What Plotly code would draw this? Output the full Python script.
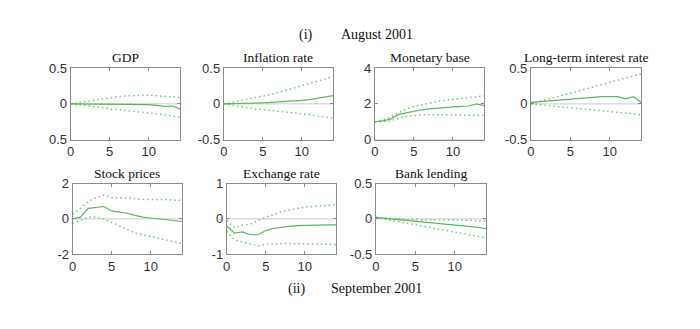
import plotly.graph_objects as go

horizon = list(range(15))

titles = ["GDP", "Inflation rate", "Monetary base", "Long-term interest rate",
          "Stock prices", "Exchange rate", "Bank lending"]

gdp_mid = [0, 0, 0, 0, 0, 0, 0, 0, 0, -0.005, -0.01, -0.02, -0.035, -0.03, -0.07]
gdp_up = [0, 0.01, 0.03, 0.05, 0.07, 0.09, 0.10, 0.11, 0.12, 0.12, 0.12, 0.115, 0.11, 0.10, 0.09]
gdp_lo = [0, -0.01, -0.02, -0.04, -0.05, -0.07, -0.08, -0.09, -0.10, -0.11, -0.12, -0.14, -0.15, -0.17, -0.19]

inf_mid = [0, 0, 0, 0.005, 0.01, 0.015, 0.02, 0.025, 0.03, 0.04, 0.05, 0.06, 0.075, 0.09, 0.115]
inf_up = [0, 0.02, 0.04, 0.06, 0.08, 0.10, 0.13, 0.16, 0.19, 0.22, 0.25, 0.28, 0.31, 0.34, 0.38]
inf_lo = [0, -0.02, -0.04, -0.05, -0.07, -0.08, -0.09, -0.10, -0.11, -0.12, -0.14, -0.15, -0.17, -0.18, -0.20]

mb_mid = [1.0, 1.05, 1.15, 1.4, 1.5, 1.6, 1.67, 1.72, 1.77, 1.8, 1.83, 1.86, 1.88, 2.0, 1.9]
mb_up = [1.0, 1.1, 1.25, 1.5, 1.7, 1.85, 1.95, 2.05, 2.13, 2.2, 2.25, 2.3, 2.35, 2.4, 2.45]
mb_lo = [1.0, 1.0, 1.05, 1.2, 1.3, 1.35, 1.38, 1.4, 1.4, 1.4, 1.4, 1.4, 1.38, 1.36, 1.35]

lt_mid = [0.02, 0.03, 0.04, 0.05, 0.06, 0.07, 0.08, 0.09, 0.095, 0.1, 0.1, 0.1, 0.07, 0.1, 0.02]
lt_up = [0.0, 0.03, 0.06, 0.09, 0.12, 0.15, 0.18, 0.21, 0.24, 0.27, 0.30, 0.33, 0.36, 0.39, 0.42]
lt_lo = [0.0, -0.01, -0.02, -0.03, -0.04, -0.05, -0.06, -0.07, -0.08, -0.09, -0.10, -0.11, -0.12, -0.14, -0.16]

sp_mid = [0, 0.1, 0.6, 0.65, 0.7, 0.45, 0.4, 0.32, 0.2, 0.1, 0.05, 0.0, -0.05, -0.1, -0.15]
sp_up = [0.27, 0.6, 1.0, 1.2, 1.35, 1.2, 1.2, 1.2, 1.15, 1.1, 1.1, 1.1, 1.1, 1.05, 1.05]
sp_lo = [-0.27, -0.1, 0.1, 0.1, 0.0, -0.2, -0.4, -0.6, -0.8, -0.9, -1.0, -1.1, -1.2, -1.3, -1.4]

ex_mid = [-0.2, -0.4, -0.37, -0.45, -0.45, -0.33, -0.27, -0.23, -0.21, -0.19, -0.18, -0.18, -0.17, -0.17, -0.17]
ex_up = [-0.05, -0.25, -0.18, -0.15, -0.05, 0.05, 0.12, 0.2, 0.25, 0.3, 0.33, 0.35, 0.37, 0.38, 0.4]
ex_lo = [-0.35, -0.6, -0.65, -0.7, -0.77, -0.72, -0.7, -0.7, -0.7, -0.7, -0.7, -0.7, -0.72, -0.72, -0.73]

bl_mid = [0.02, 0.01, -0.01, -0.02, -0.03, -0.04, -0.05, -0.06, -0.07, -0.08, -0.09, -0.10, -0.11, -0.12, -0.14]
bl_up = [0.02, 0.01, 0.0, 0.0, -0.01, -0.01, -0.01, -0.02, -0.02, -0.02, -0.02, -0.02, -0.02, -0.03, -0.03]
bl_lo = [0.02, 0.0, -0.03, -0.05, -0.07, -0.09, -0.11, -0.13, -0.15, -0.17, -0.19, -0.21, -0.23, -0.25, -0.27]

series = [(gdp_mid, gdp_up, gdp_lo), (inf_mid, inf_up, inf_lo), (mb_mid, mb_up, mb_lo),
          (lt_mid, lt_up, lt_lo), (sp_mid, sp_up, sp_lo), (ex_mid, ex_up, ex_lo),
          (bl_mid, bl_up, bl_lo)]

y_ranges = [(-0.5, 0.5), (-0.5, 0.5), (0, 4), (-0.5, 0.5), (-2, 2), (-1, 1), (-0.5, 0.5)]
y_tickvals = [[-0.5, 0, 0.5], [-0.5, 0, 0.5], [0, 2, 4], [-0.5, 0, 0.5],
              [-2, 0, 2], [-1, 0, 1], [-0.5, 0, 0.5]]
y_ticktext = [["0.5", "0", "0.5"], ["-0.5", "0", "0.5"], ["0", "2", "4"], ["-0.5", "0", "0.5"],
              ["-2", "0", "2"], ["-1", "0", "1"], ["-0.5", "0", "0.5"]]
x_ticks = [0, 5, 10]

W, H = 700, 329
# pixel boxes (left, right, top, bottom)
boxes = [(67, 177, 64, 139), (221, 331, 64, 139), (373, 483, 64, 139), (530, 641, 64, 139),
         (69, 179, 185, 259), (224, 334, 185, 259), (374, 485, 185, 259)]

fig = go.Figure()
mid_color = "#5cb85c"
band_color = "#79c879"
frame = "#8c8c8c"
sans = "Liberation Sans"
serif = "Liberation Serif"

layout = dict(width=W, height=H, margin=dict(l=0, r=0, t=0, b=0),
              paper_bgcolor="white", plot_bgcolor="white", showlegend=False)
annotations = []
for i, (b, s) in enumerate(zip(boxes, series)):
    k = "" if i == 0 else str(i + 1)
    xa, ya = "x" + k, "y" + k
    mid, up, lo = s
    fig.add_trace(go.Scatter(x=horizon, y=[0] * len(horizon), xaxis=xa, yaxis=ya, mode="lines",
                             line=dict(color="#cccccc", width=1), hoverinfo="skip"))
    fig.add_trace(go.Scatter(x=horizon, y=up, xaxis=xa, yaxis=ya, mode="lines",
                             line=dict(color=band_color, width=1.5, dash="1.5px,3px")))
    fig.add_trace(go.Scatter(x=horizon, y=lo, xaxis=xa, yaxis=ya, mode="lines",
                             line=dict(color=band_color, width=1.5, dash="1.5px,3px")))
    fig.add_trace(go.Scatter(x=horizon, y=mid, xaxis=xa, yaxis=ya, mode="lines",
                             line=dict(color=mid_color, width=1.2)))
    l, r, t, bt = b
    layout["xaxis" + k] = dict(domain=[l / W, r / W], anchor=ya, range=[0, 14],
                               tickvals=x_ticks, ticks="inside", ticklen=3, tickcolor=frame,
                               showline=True, linecolor=frame, linewidth=1, mirror="ticks",
                               showgrid=False, zeroline=False,
                               tickfont=dict(family=sans, size=13, color="#333"))
    layout["yaxis" + k] = dict(domain=[1 - bt / H, 1 - t / H], anchor=xa, range=list(y_ranges[i]),
                               tickvals=y_tickvals[i], ticktext=y_ticktext[i],
                               ticks="inside", ticklen=3, tickcolor=frame,
                               showline=True, linecolor=frame, linewidth=1, mirror="ticks",
                               showgrid=False, zeroline=False,
                               tickfont=dict(family=sans, size=13, color="#333"))
    annotations.append(dict(text=titles[i], x=(l + r) / 2 / W, y=1 - (t - 1) / H,
                            xref="paper", yref="paper", xanchor="center", yanchor="bottom",
                            showarrow=False, font=dict(family=serif, size=13.5, color="#111")))

head_font = dict(family=serif, size=14, color="#111")
annotations += [
    dict(text="(i)", x=304 / W, y=1 - 29 / H, xref="paper", yref="paper", showarrow=False,
         xanchor="center", yanchor="middle", font=head_font),
    dict(text="August 2001", x=375 / W, y=1 - 29 / H, xref="paper", yref="paper", showarrow=False,
         xanchor="center", yanchor="middle", font=head_font),
    dict(text="(ii)", x=294 / W, y=1 - 295 / H, xref="paper", yref="paper", showarrow=False,
         xanchor="center", yanchor="middle", font=head_font),
    dict(text="September 2001", x=375 / W, y=1 - 295 / H, xref="paper", yref="paper", showarrow=False,
         xanchor="center", yanchor="middle", font=head_font),
]
layout["annotations"] = annotations
fig.update_layout(**layout)
fig.write_html("out.html")
